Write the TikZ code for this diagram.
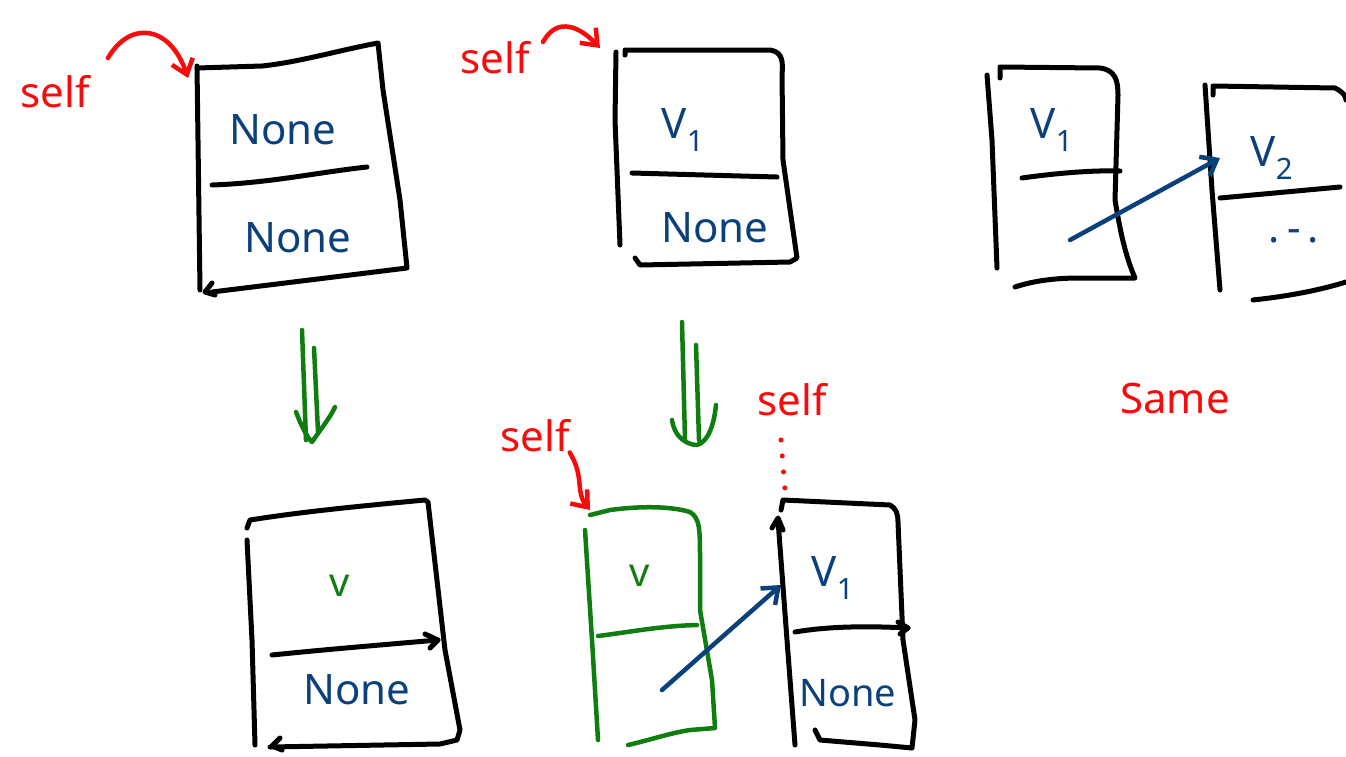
\documentclass[tikz,border=0pt]{standalone}
\usepackage{fontspec}
\setmainfont{Noto Sans}
\usetikzlibrary{arrows.meta}
\definecolor{inkblack}{RGB}{0,0,0}
\definecolor{inkblue}{RGB}{10,65,125}
\definecolor{inkred}{RGB}{250,10,10}
\definecolor{inkgreen}{RGB}{15,125,15}
\tikzset{
  pen/.style={line width=5pt, line cap=round, line join=round, draw=inkblack},
  gpen/.style={line width=4.5pt, line cap=round, line join=round, draw=inkgreen},
  bpen/.style={line width=4.5pt, line cap=round, line join=round, draw=inkblue},
  rpen/.style={line width=4.5pt, line cap=round, line join=round, draw=inkred},
  tip/.style={-{Straight Barb[length=14pt,width=22pt,line width=4.5pt]}},
  bluetext/.style={text=inkblue, font=\fontsize{42}{46}\selectfont, inner sep=0pt},
  greentext/.style={text=inkgreen, font=\fontsize{40}{44}\selectfont, inner sep=0pt},
  redtext/.style={text=inkred, font=\fontsize{42}{46}\selectfont, inner sep=0pt},
}
\begin{document}
\begin{tikzpicture}[x=1pt,y=-1pt]
\useasboundingbox (0,0) rectangle (1346,756);

% ---------- Box 1 (top left)
\draw[pen] (197,66) -- (200,290);
\draw[pen] (197,68) -- (262,66) .. controls (300,62) and (340,50) .. (378,43) -- (383,90) -- (400,200) -- (407,268) -- (212,292);
\draw[pen] (212,283) -- (205,292) -- (215,295);
\draw[pen] (212,185) .. controls (270,183) and (320,172) .. (367,167);
\node[bluetext] (n1a) at (283,130) {None};
\node[bluetext] (n1b) at (298,238) {None};
\node[redtext] (s1) at (55,92) {self};
\coordinate (s1t) at (188,78);
\draw[rpen, tip] (108,58) .. controls (130,20) and (170,25) .. (s1t);

% ---------- Box 2
\draw[pen] (616,52) -- (615,120) -- (620,245);
\draw[pen] (625,55) -- (625,50) -- (770,50) .. controls (783,52) and (783,62) .. (782,75) -- (783,160) -- (797,258) -- (790,262) -- (640,265) -- (635,258);
\draw[pen] (632,173) -- (777,177);
\node[bluetext] (v2) at (683,130) {V\textsubscript{1}};
\node[bluetext] (n2) at (715,228) {None};
\node[redtext] (s2) at (495,58) {self};
\coordinate (s2t) at (600,48);
\draw[rpen, tip] (543,42) .. controls (555,20) and (575,22) .. (s2t);

% ---------- Box 3 (top right)
\draw[pen] (987,75) -- (992,140) -- (997,268);
\draw[pen] (1000,78) -- (1000,67) -- (1100,68) .. controls (1115,70) and (1118,80) .. (1118,95) -- (1115,200) .. controls (1120,230) and (1125,255) .. (1135,278) -- (1080,278) .. controls (1050,278) and (1030,282) .. (1015,287);
\draw[pen] (1022,178) .. controls (1050,174) and (1090,170) .. (1120,171);
\node[bluetext] (v3) at (1052,130) {V\textsubscript{1}};

% ---------- Box 4
\draw[pen] (1205,85) -- (1212,190) -- (1220,290);
\draw[pen] (1213,95) -- (1213,86) -- (1335,88) .. controls (1343,92) and (1346,96) .. (1346,100);
\draw[pen] (1220,198) -- (1340,187);
\draw[pen] (1253,300) .. controls (1290,296) and (1320,290) .. (1346,282);
\node[bluetext] (v4) at (1272,158) {V\textsubscript{2}};
\node[bluetext] (d4) at (1294,236) {.\,-\,.};
\coordinate (a3s) at (1070,240);
\coordinate (a3t) at (1220,158);
\draw[bpen, tip] (a3s) -- (a3t);

\node[redtext] (same) at (1175,398) {Same};

% ---------- Green double arrows
\draw[gpen] (302,330) -- (306,440);
\draw[gpen] (314,348) -- (318,432);
\draw[gpen] (296,412) .. controls (303,430) and (308,438) .. (312,442) .. controls (320,430) and (330,418) .. (335,407);
\draw[gpen] (682,322) -- (685,440);
\draw[gpen] (696,345) -- (699,440);
\draw[gpen] (672,420) .. controls (675,440) and (690,445) .. (697,445) .. controls (708,442) and (714,425) .. (716,405);

% ---------- Box 5 (bottom left)
\draw[pen] (247,540) -- (252,640) -- (255,745);
\draw[pen] (247,528) -- (250,520) .. controls (300,512) and (360,506) .. (425,500) -- (428,502) -- (445,650) -- (460,730) -- (457,740) -- (440,744) -- (270,747);
\draw[pen] (280,738) -- (272,746) -- (282,750);
\draw[pen] (272,655) .. controls (320,650) and (380,645) .. (438,640);
\draw[pen] (425,634) -- (438,640) -- (430,648);
\node[greentext] (v5) at (340,586) {v};
\node[bluetext] (n5) at (357,690) {None};

% ---------- Box 6 (green)
\draw[gpen] (585,530) -- (592,640) -- (598,740);
\draw[gpen] (590,515) -- (610,510) .. controls (640,506) and (670,506) .. (690,512) .. controls (700,518) and (700,530) .. (700,560) -- (700,610) -- (712,680) -- (715,728) -- (690,730) .. controls (670,733) and (650,740) .. (628,745);
\draw[gpen] (598,636) .. controls (630,632) and (660,626) .. (697,625);
\node[greentext] (v6) at (640,576) {v};
\coordinate (a6s) at (662,690);
\coordinate (a6t) at (781,585);
\draw[bpen, tip] (a6s) -- (a6t);

% ---------- Box 7
\draw[pen] (778,520) -- (787,640) -- (795,745);
\draw[pen] (772,528) -- (778,518) -- (783,530);
\draw[pen] (781,510) -- (783,500) -- (890,505) .. controls (896,508) and (898,514) .. (898,522) -- (903,640) -- (915,720) -- (912,748) -- (880,745) -- (820,740) -- (815,730);
\draw[pen] (795,632) .. controls (830,626) and (870,626) .. (908,628);
\draw[pen] (898,622) -- (908,628) -- (900,634);
\node[bluetext] (v7) at (833,578) {V\textsubscript{1}};
\node[bluetext, font=\fontsize{38}{42}\selectfont] (n7) at (848,693) {None};

% ---------- bottom selfs
\node[redtext] (s6) at (535,436) {self};
\coordinate (s6t) at (590,510);
\draw[rpen, tip] (s6.south east) .. controls (585,478) and (575,492) .. (s6t);
\node[redtext] (s7) at (792,400) {self};
\coordinate (s7s) at (781,440);
\coordinate (s7t) at (785,490);
\draw[rpen, dash pattern=on 0pt off 16pt, line width=5pt] (s7s) -- (s7t);
\end{tikzpicture}
\end{document}
